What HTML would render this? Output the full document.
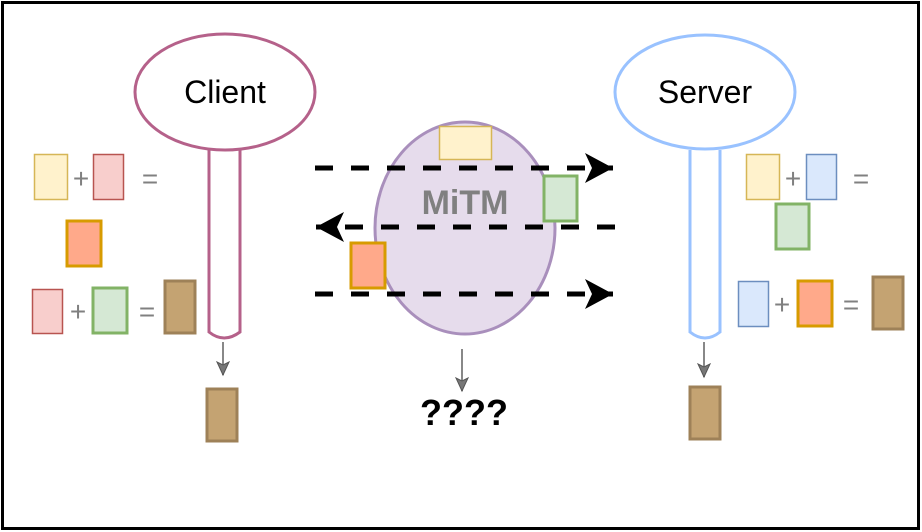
<!DOCTYPE html>
<html><head><meta charset="utf-8"><style>
html,body{margin:0;padding:0;background:#fff}
svg{display:block}
</style></head><body>
<svg width="922" height="532" viewBox="0 0 922 532" xmlns="http://www.w3.org/2000/svg" font-family="Liberation Sans, sans-serif">
<defs>
<marker id="big" markerWidth="30" markerHeight="32" refX="28" refY="16" orient="auto" markerUnits="userSpaceOnUse">
<path d="M0,1 L28,16 L0,31 L7,16 Z" fill="#000"/>
</marker>
<marker id="sm" markerWidth="16" markerHeight="16" refX="14" refY="7" orient="auto" markerUnits="userSpaceOnUse">
<path d="M1,1 L14,7 L1,13 L4,7 Z" fill="#777" stroke="#555" stroke-width="1"/>
</marker>
</defs>
<rect x="2.5" y="2.5" width="916" height="526" fill="#fff" stroke="#000" stroke-width="3"/>

<!-- Client -->
<path d="M209,150 V332 Q224,344 240,332 V150" fill="#fff" stroke="#b5618a" stroke-width="3"/>
<ellipse cx="225" cy="92" rx="90" ry="58" fill="#fff" stroke="#b5618a" stroke-width="3"/>
<text x="225" y="103" font-size="32" text-anchor="middle">Client</text>
<line x1="223" y1="342" x2="223" y2="375" stroke="#888" stroke-width="2" marker-end="url(#sm)"/>

<!-- Server -->
<path d="M690,150 V332 Q705,344 720,332 V150" fill="#fff" stroke="#99c2ff" stroke-width="3"/>
<ellipse cx="705" cy="92" rx="90" ry="57" fill="#fff" stroke="#99c2ff" stroke-width="3"/>
<text x="705" y="103" font-size="32" text-anchor="middle">Server</text>
<line x1="704" y1="342" x2="704" y2="377" stroke="#888" stroke-width="2" marker-end="url(#sm)"/>

<!-- MiTM -->
<ellipse cx="465" cy="228" rx="90" ry="106" fill="#e6dcec" stroke="#a98fbc" stroke-width="3"/>
<text x="465" y="214" font-size="34" font-weight="bold" fill="#808080" text-anchor="middle">MiTM</text>
<rect x="439.5" y="126.5" width="52" height="33" fill="#fff2cc" stroke="#d6b656" stroke-width="1.5"/>

<line x1="315" y1="168" x2="613" y2="168" stroke="#000" stroke-width="5" stroke-dasharray="18,18" marker-end="url(#big)"/>
<line x1="615" y1="227" x2="316" y2="227" stroke="#000" stroke-width="5" stroke-dasharray="18,18" marker-end="url(#big)"/>
<line x1="315" y1="294" x2="613" y2="294" stroke="#000" stroke-width="5" stroke-dasharray="18,18" marker-end="url(#big)"/>

<rect x="544" y="176" width="33" height="45" fill="#d5e8d4" stroke="#82b366" stroke-width="3"/>
<rect x="351" y="243" width="34" height="45" fill="#ffa98a" stroke="#d79b00" stroke-width="3"/>

<line x1="462" y1="349" x2="462" y2="391" stroke="#888" stroke-width="2" marker-end="url(#sm)"/>
<text x="464" y="425" font-size="36" font-weight="bold" text-anchor="middle">????</text>

<!-- left formulas -->
<rect x="34.5" y="154.5" width="33" height="45" fill="#fff2cc" stroke="#d6b656" stroke-width="1.5"/>
<text x="81" y="188" font-size="28" fill="#808080" text-anchor="middle">+</text>
<rect x="93.5" y="154.5" width="30" height="45" fill="#f8cecc" stroke="#b85450" stroke-width="1.5"/>
<text x="150" y="188" font-size="28" fill="#808080" text-anchor="middle">=</text>
<rect x="67" y="221" width="34" height="45" fill="#ffa98a" stroke="#d79b00" stroke-width="3"/>
<rect x="32.5" y="289.5" width="30" height="44" fill="#f8cecc" stroke="#b85450" stroke-width="1.5"/>
<text x="78" y="321" font-size="28" fill="#808080" text-anchor="middle">+</text>
<rect x="93" y="288" width="34" height="45" fill="#d5e8d4" stroke="#82b366" stroke-width="3"/>
<text x="147" y="321" font-size="28" fill="#808080" text-anchor="middle">=</text>
<rect x="165" y="281" width="30" height="52" fill="#c4a372" stroke="#9e8158" stroke-width="3"/>
<rect x="207" y="389" width="30" height="52" fill="#c4a372" stroke="#9e8158" stroke-width="3"/>

<!-- right formulas -->
<rect x="746.5" y="154.5" width="33" height="45" fill="#fff2cc" stroke="#d6b656" stroke-width="1.5"/>
<text x="793" y="188" font-size="28" fill="#808080" text-anchor="middle">+</text>
<rect x="806.5" y="154.5" width="30" height="45" fill="#dae8fc" stroke="#6c8ebf" stroke-width="1.5"/>
<text x="861" y="188" font-size="28" fill="#808080" text-anchor="middle">=</text>
<rect x="776" y="204" width="33" height="45" fill="#d5e8d4" stroke="#82b366" stroke-width="3"/>
<rect x="738.5" y="281.5" width="30" height="45" fill="#dae8fc" stroke="#6c8ebf" stroke-width="1.5"/>
<text x="782" y="314" font-size="28" fill="#808080" text-anchor="middle">+</text>
<rect x="798" y="281" width="34" height="45" fill="#ffa98a" stroke="#d79b00" stroke-width="3"/>
<text x="851" y="314" font-size="28" fill="#808080" text-anchor="middle">=</text>
<rect x="873" y="277" width="30" height="52" fill="#c4a372" stroke="#9e8158" stroke-width="3"/>
<rect x="690" y="387" width="30" height="52" fill="#c4a372" stroke="#9e8158" stroke-width="3"/>
</svg>
</body></html>
